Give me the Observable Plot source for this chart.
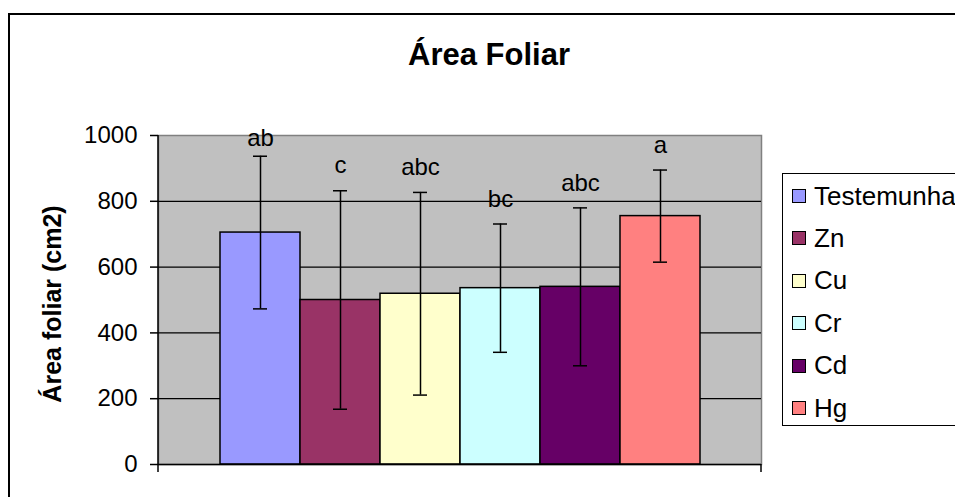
<!DOCTYPE html>
<html>
<head>
<meta charset="utf-8">
<script src="https://cdn.jsdelivr.net/npm/d3@7"></script>
<script src="https://cdn.jsdelivr.net/npm/@observablehq/plot@0.6"></script>
<style>
  html, body { margin: 0; padding: 0; background: #fff; }
  #wrap { position: relative; width: 955px; height: 497px; overflow: hidden; background: #fff;
          font-family: Arial, "Liberation Sans", sans-serif; }
  #border { position: absolute; left: 8px; top: 13px; width: 1200px; height: 1200px;
            border-left: 2px solid #000; border-top: 2px solid #000; box-sizing: border-box; }
  #title { position: absolute; left: 0; width: 978px; top: 34px; text-align: center;
           font-weight: bold; font-size: 31px; line-height: 42px; color: #000; }
  #chart { position: absolute; left: 0; top: 0; }
  #legend { position: absolute; left: 782px; top: 173px; width: 260px; height: 253px;
            border: 1.5px solid #000; box-sizing: border-box; background: #fff; }
  .item { position: absolute; left: 9px; height: 30px; display: flex; align-items: center;
          font-size: 26px; color: #000; white-space: nowrap; }
  .sw { width: 12px; height: 12px; border: 1.5px solid #000; margin-right: 8px; flex: none; }
</style>
</head>
<body>
<div id="wrap">
  <div id="border"></div>
  <div id="chart"></div>
  <div id="title">Área Foliar</div>
  <div id="legend"></div>
</div>
<script>
const categories = ["Testemunha", "Zn", "Cu", "Cr", "Cd", "Hg"];
const means      = [705, 500, 519, 536, 540, 755];
const errors     = [232, 332, 308, 195, 240, 140];
const letters    = ["ab", "c", "abc", "bc", "abc", "a"];
const colors     = ["#9999FF", "#993366", "#FFFFCC", "#CCFFFF", "#660066", "#FF8080"];
const yTicks     = [0, 200, 400, 600, 800, 1000];
const gridLines  = [200, 400, 600, 800];
const yLabel     = "Área foliar (cm2)";
const titleText  = "Área Foliar";

const data = categories.map((c, i) => ({
  cat: c, mean: means[i], lo: means[i] - errors[i], hi: means[i] + errors[i], letter: letters[i]
}));

// left axis line and category-axis edge ticks, derived from the layout
const edgeMarks = (index, scales, values, dim) => {
  const g = d3.create("svg:g");
  const x0 = dim.marginLeft, x1 = dim.width - dim.marginRight;
  const y0 = dim.marginTop, y1 = dim.height - dim.marginBottom;
  g.append("line").attr("x1", x0).attr("x2", x0).attr("y1", y0).attr("y2", y1)
    .attr("stroke", "#000").attr("stroke-width", 1.5);
  for (const x of [x0, x1]) {
    g.append("line").attr("x1", x).attr("x2", x).attr("y1", y1).attr("y2", y1 + 8)
      .attr("stroke", "#000").attr("stroke-width", 1.5);
  }
  return g.node();
};

const plot = Plot.plot({
  width: 955,
  height: 497,
  marginLeft: 158,
  marginRight: 194,
  marginTop: 135,
  marginBottom: 33,
  style: { fontFamily: "Arial, 'Liberation Sans', sans-serif", fontSize: "24px", color: "#000", background: "transparent", overflow: "visible" },
  x: { type: "band", domain: categories, paddingInner: 0, paddingOuter: 0.745, axis: null },
  y: { domain: [0, 1000], axis: null },
  color: { domain: categories, range: colors },
  marks: [
    Plot.frame({ fill: "#C0C0C0" }),
    Plot.frame({ stroke: "#808080", strokeWidth: 1.5 }),
    Plot.ruleY(gridLines, { stroke: "#000", strokeWidth: 1.2 }),
    Plot.barY(data, { x: "cat", y: "mean", fill: "cat", stroke: "#000", strokeWidth: 1.5 }),
    Plot.ruleX(data, { x: "cat", y1: "lo", y2: "hi", stroke: "#000", strokeWidth: 1.5 }),
    Plot.tickY(data, { x: "cat", y: "hi", stroke: "#000", strokeWidth: 1.5, insetLeft: 33, insetRight: 33 }),
    Plot.tickY(data, { x: "cat", y: "lo", stroke: "#000", strokeWidth: 1.5, insetLeft: 33, insetRight: 33 }),
    Plot.ruleY([0], { stroke: "#000", strokeWidth: 1.5 }),
    edgeMarks,
    Plot.axisY({ ticks: yTicks, tickSize: 8, tickPadding: 13, tickFormat: d => String(d),
                 fontSize: 24, stroke: "#000", strokeWidth: 1.5, label: null }),
    Plot.text(data, { x: "cat", y: d => Math.min(d.hi + 76, 990), text: "letter",
                      fontSize: 24, fill: "#000", lineAnchor: "middle" }),
    Plot.text([yLabel], { frameAnchor: "left", textAnchor: "middle", lineAnchor: "middle",
                          rotate: -90, dx: -106, dy: 4, text: d => d,
                          fontSize: 25, fontWeight: "bold", fill: "#000" })
  ]
});
document.getElementById("chart").appendChild(plot);
document.getElementById("title").textContent = titleText;

const color = plot.scale("color");
const legend = d3.select("#legend");
categories.forEach((c, i) => {
  const item = legend.append("div").attr("class", "item").style("top", (7 + i * 42.4) + "px");
  item.append("div").attr("class", "sw").style("background", colors[color.domain.indexOf(c)]);
  item.append("span").text(c);
});
</script>
</body>
</html>
